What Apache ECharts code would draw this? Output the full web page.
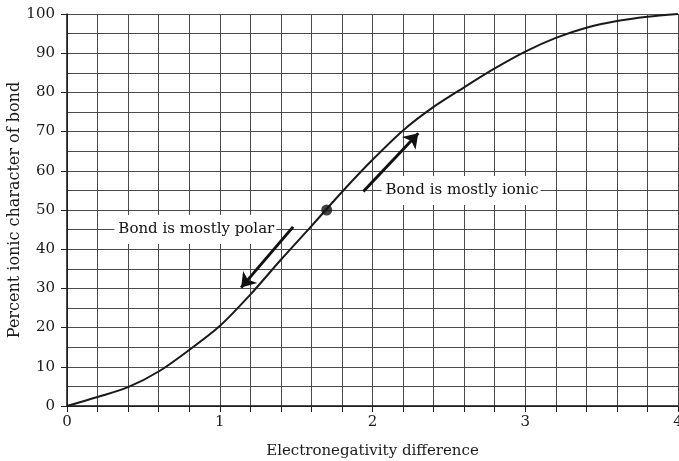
<!DOCTYPE html>
<html>
<head>
<meta charset="utf-8">
<script src="https://cdn.jsdelivr.net/npm/echarts@6/dist/echarts.min.js"></script>
<style>
  html, body { margin: 0; padding: 0; background: #fff; }
  #chart { width: 679px; height: 461px; }
</style>
</head>
<body>
<div id="chart"></div>
<script>
// curve values
const enDiff = [0, 0.2, 0.4, 0.6, 0.8, 1.0, 1.2, 1.4, 1.6, 1.8, 2.0, 2.2, 2.4, 2.6, 2.8, 3.0, 3.2, 3.4, 3.6, 3.8, 4.0]
const ionicPct = [0, 2.3, 4.8, 8.8, 14.3, 20.4, 28.4, 37.3, 45.9, 54.6, 62.8, 70.3, 76.3, 81.3, 86.1, 90.4, 93.9, 96.5, 98.2, 99.3, 100]
const midPoint = [1.7, 50]

// arrows (start, end) and their captions
const polarArrow = [[1.48, 45.7], [1.14, 30.2]]
const ionicArrow = [[1.94, 54.7], [2.30, 69.6]]
const captions = [
  { text: 'Bond is mostly polar', at: [0.84, 45] },
  { text: 'Bond is mostly ionic', at: [2.58, 55] }
]

const xTickLabels = [0, 1, 2, 3, 4]
const yTickLabels = [0, 10, 20, 30, 40, 50, 60, 70, 80, 90, 100]

const FONT = 'DejaVu Serif'
const gridColor = '#4a4a4a'

const chart = echarts.init(document.getElementById('chart'))

const option = {
  animation: false,
  textStyle: { fontFamily: FONT },
  grid: { left: 67, right: 1, top: 14, bottom: 55, outerBoundsMode: 'none', containLabel: false },
  xAxis: {
    type: 'value',
    min: 0,
    max: 4,
    interval: 0.2,
    name: 'Electronegativity difference',
    nameLocation: 'middle',
    nameGap: 38,
    nameMoveOverlap: false,
    nameTextStyle: { fontFamily: FONT, fontSize: 15, color: '#1a1a1a' },
    axisLine: { show: true, lineStyle: { color: '#111', width: 1.5 } },
    axisTick: { show: true, inside: false, length: 6, lineStyle: { color: '#222' } },
    axisLabel: {
      margin: 9,
      fontFamily: FONT,
      fontSize: 15,
      color: '#1a1a1a',
      hideOverlap: false,
      formatter: (v) => {
        let r = Math.round(v)
        return (Math.abs(v - r) < 1e-6 && xTickLabels.indexOf(r) > -1) ? String(r) : ''
      }
    },
    splitLine: { show: true, lineStyle: { color: gridColor, width: 1 } }
  },
  yAxis: {
    type: 'value',
    min: 0,
    max: 100,
    interval: 10,
    name: 'Percent ionic character of bond',
    nameLocation: 'middle',
    nameGap: 44,
    nameMoveOverlap: false,
    nameTextStyle: { fontFamily: FONT, fontSize: 16, color: '#1a1a1a' },
    axisLine: { show: true, lineStyle: { color: '#111', width: 1.5 } },
    axisTick: { show: true, inside: false, length: 6, lineStyle: { color: '#222' } },
    axisLabel: {
      margin: 12,
      fontFamily: FONT,
      fontSize: 15,
      color: '#1a1a1a',
      formatter: (v) => yTickLabels.indexOf(Math.round(v)) > -1 ? String(Math.round(v)) : ''
    },
    splitLine: { show: true, lineStyle: { color: gridColor, width: 1 } },
    minorTick: { show: false, splitNumber: 2 },
    minorSplitLine: { show: true, lineStyle: { color: gridColor, width: 1 } }
  },
  series: [
    {
      type: 'line',
      name: 'ionic character',
      smooth: 0.3,
      symbol: 'none',
      lineStyle: { color: '#1a1a1a', width: 2 },
      data: enDiff.map((x, i) => [x, ionicPct[i]]),
      z: 3
    },
    {
      type: 'scatter',
      symbolSize: 11,
      itemStyle: { color: '#111' },
      data: [midPoint],
      z: 4
    },
    {
      type: 'lines',
      coordinateSystem: 'cartesian2d',
      symbol: ['none', 'arrow'],
      symbolSize: 14,
      lineStyle: { color: '#111', width: 3, opacity: 1 },
      data: [
        { coords: polarArrow },
        { coords: ionicArrow }
      ],
      z: 4
    },
    {
      type: 'scatter',
      symbol: 'circle',
      symbolSize: 1,
      itemStyle: { color: '#fff', opacity: 1 },
      label: {
        show: true,
        position: 'inside',
        formatter: (p) => p.data.name,
        fontFamily: FONT,
        fontSize: 15,
        color: '#111',
        opacity: 1,
        textBorderWidth: 0,
        backgroundColor: '#fff',
        padding: [7, 2, 7, 4]
      },
      emphasis: { disabled: true },
      data: captions.map(c => ({ name: c.text, value: c.at })),
      z: 5
    }
  ]
}

chart.setOption(option)
</script>
</body>
</html>
